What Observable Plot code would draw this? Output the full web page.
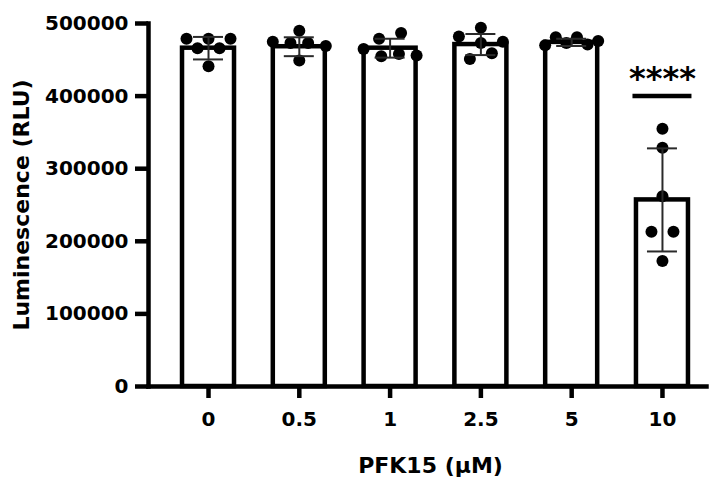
<!DOCTYPE html>
<html>
<head>
<meta charset="utf-8">
<script src="https://cdn.jsdelivr.net/npm/d3@7"></script>
<script src="https://cdn.jsdelivr.net/npm/@observablehq/plot@0.6"></script>
<style>
  html, body { margin: 0; padding: 0; background: #ffffff; }
</style>
</head>
<body>
<div id="chart"></div>
<script>
// ---- data ----
const categories = ["0", "0.5", "1", "2.5", "5", "10"];
const means = [466000, 468000, 466000, 471000, 474000, 257000];
const sds = [15500, 13000, 13000, 14500, 5000, 71000];
const dots0 = [479000, 466000, 479000, 466000, 479000, 441000];
const dots05 = [490000, 475000, 473000, 473000, 469000, 449000];
const dots1 = [479000, 487000, 465000, 455000, 458000, 456000];
const dots25 = [482000, 451000, 473000, 494000, 475000, 459000];
const dots5 = [470000, 481000, 473000, 481000, 471000, 476000];
const dots10 = [355000, 329000, 262000, 213000, 213000, 173000];
const yTicks = [0, 100000, 200000, 300000, 400000, 500000];
const significance = [{category: "10", value: 400000, label: "****"}];
const xTitle = "PFK15 (µM)";
const yTitle = "Luminescence (RLU)";

// ---- layout ----
const W = 721, H = 496;
const mL = 148, mR = 15, mT = 23, mB = 110;
const xDomain = [-0.661, 5.485];
const unitPerPx = (xDomain[1] - xDomain[0]) / (W - mL - mR);
const barHalf = 26 * unitPerPx;
const capHalf = 15 * unitPerPx;
const sigHalf = 29.5 * unitPerPx;

// scatter layout: group close values into rows, centre each row
function rowOffsets(values, thresh, maxSpan, maxSpacing) {
  const order = d3.range(values.length).sort((a, b) => values[b] - values[a]);
  const rows = [];
  for (const k of order) {
    const last = rows[rows.length - 1];
    if (last && values[last[last.length - 1]] - values[k] < thresh) last.push(k);
    else rows.push([k]);
  }
  const off = new Array(values.length).fill(0);
  for (const row of rows) {
    row.sort((a, b) => a - b);
    const n = row.length;
    const sp = n > 1 ? Math.min(maxSpacing, maxSpan / (n - 1)) : 0;
    row.forEach((k, j) => { off[k] = (j - (n - 1) / 2) * sp; });
  }
  return off;
}

const allDots = [dots0, dots05, dots1, dots25, dots5, dots10];
const stats = categories.map((c, i) => ({
  i, c, mean: means[i], lo: means[i] - sds[i], hi: means[i] + sds[i]
}));
const points = [];
allDots.forEach((vals, i) => {
  const off = rowOffsets(vals, 8500, 53, 22);
  vals.forEach((v, k) => points.push({i, value: v, off: off[k] * unitPerPx}));
});

const chart = Plot.plot({
  width: W,
  height: H,
  marginLeft: mL,
  marginRight: mR,
  marginTop: mT,
  marginBottom: mB,
  x: {domain: xDomain, axis: null},
  y: {domain: [0, 500000], axis: null},
  style: {
    background: "#ffffff",
    color: "#000000",
    fontFamily: "'DejaVu Sans', sans-serif",
    fontSize: "20px",
    fontWeight: "bold"
  },
  marks: [
    Plot.rectY(stats, {
      x1: d => d.i - barHalf, x2: d => d.i + barHalf, y1: 0, y2: "mean",
      fill: "#ffffff", stroke: "#000000", strokeWidth: 4.5
    }),
    Plot.dot(points, {x: d => d.i + d.off, y: "value", r: 6, fill: "#000000"}),
    Plot.ruleX(stats, {x: "i", y1: "lo", y2: "hi", stroke: "#2a2a2a", strokeWidth: 2}),
    Plot.ruleY(stats, {y: "hi", x1: d => d.i - capHalf, x2: d => d.i + capHalf, stroke: "#2a2a2a", strokeWidth: 2}),
    Plot.ruleY(stats, {y: "lo", x1: d => d.i - capHalf, x2: d => d.i + capHalf, stroke: "#2a2a2a", strokeWidth: 2}),
    Plot.ruleY(significance, {
      y: "value",
      x1: d => categories.indexOf(d.category) - sigHalf,
      x2: d => categories.indexOf(d.category) + sigHalf,
      stroke: "#000000", strokeWidth: 4.5
    }),
    Plot.text(significance, {
      x: d => categories.indexOf(d.category), y: "value", text: "label",
      fontSize: 32, fontWeight: "bold", dy: -17, fill: "#000000"
    }),
    Plot.axisY({
      ticks: yTicks, tickFormat: d3.format("d"), tickSize: 13, tickPadding: 7,
      strokeWidth: 4.5, label: null, fontSize: 20, fontWeight: "bold"
    }),
    Plot.axisX({
      ticks: d3.range(categories.length), tickFormat: i => categories[i],
      tickSize: 12, tickPadding: 13, strokeWidth: 4.5, label: null,
      fontSize: 20, fontWeight: "bold"
    }),
    Plot.frame({anchor: "left", stroke: "#000000", strokeWidth: 4.5, strokeLinecap: "square"}),
    Plot.frame({anchor: "bottom", stroke: "#000000", strokeWidth: 4.5, strokeLinecap: "square"}),
    Plot.text([yTitle], {
      frameAnchor: "left", textAnchor: "middle", lineAnchor: "middle",
      rotate: -90, dx: -127, fontSize: 22, fontWeight: "bold"
    }),
    Plot.text([xTitle], {
      frameAnchor: "bottom", textAnchor: "middle", lineAnchor: "middle",
      dx: 3, dy: 79, fontSize: 22, fontWeight: "bold"
    })
  ]
});
document.getElementById("chart").appendChild(chart);
</script>
</body>
</html>
